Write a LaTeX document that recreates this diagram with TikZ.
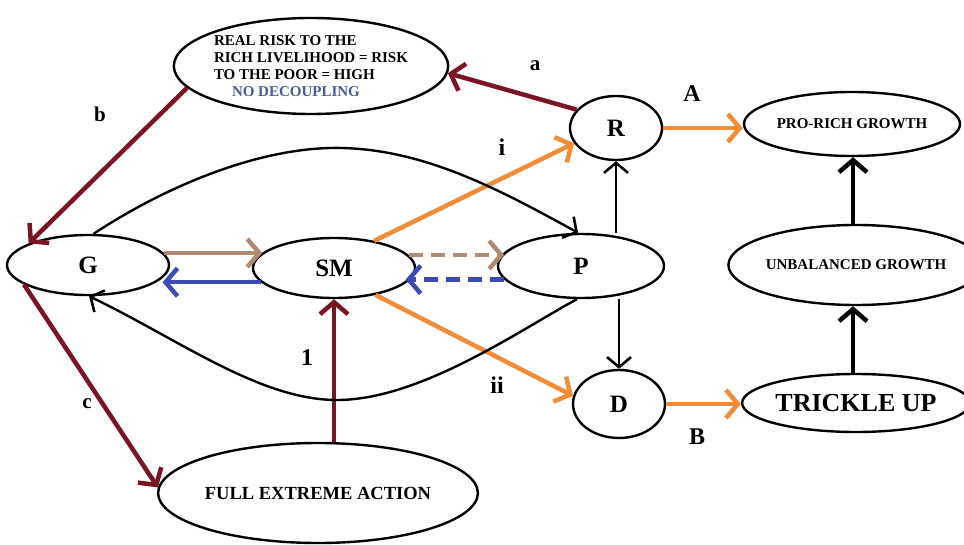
\documentclass[tikz,border=0pt]{standalone}
\usepackage{fontspec}
\setmainfont{Liberation Serif}
\usetikzlibrary{arrows.meta,shapes.geometric,calc}
\definecolor{dred}{HTML}{7A1324}
\definecolor{orng}{HTML}{F28C38}
\definecolor{tanc}{HTML}{B08B73}
\definecolor{bluec}{HTML}{3D4AB5}
\definecolor{navyt}{HTML}{4B5A95}
\tikzset{
  ell/.style={ellipse, draw=black, line width=2.4pt, inner sep=0pt, font=\bfseries},
  big/.style={font=\fontsize{25}{28}\selectfont\bfseries},
  thk/.style={line width=4.5pt, -{Straight Barb[length=12pt,width=28pt,line width=4.5pt]}},
  thn/.style={line width=2.4pt, -{Straight Barb[length=10pt,width=24pt,line width=2.6pt]}},
  lbl/.style={font=\fontsize{24}{26}\selectfont\bfseries},
  slbl/.style={font=\fontsize{21}{23}\selectfont\bfseries},
}
\begin{document}
\begin{tikzpicture}[x=1pt,y=-1pt]
\useasboundingbox (0,0) rectangle (964,545);
% nodes
\node[ell, minimum width=268pt, minimum height=96pt, align=left,
  font=\fontsize{15}{17}\selectfont\bfseries] (top) at (311,66)
  {REAL RISK TO THE\\RICH LIVELIHOOD = RISK\\TO THE POOR = HIGH\\\hspace*{18pt}\textcolor{navyt}{NO DECOUPLING}};
\node[ell, big, minimum width=162pt, minimum height=60pt] (G) at (88,265) {G};
\node[ell, big, minimum width=162pt, minimum height=60pt] (SM) at (334,268) {SM};
\node[ell, big, minimum width=166pt, minimum height=64pt] (P) at (581,266) {P};
\node[ell, big, minimum width=92pt, minimum height=64pt] (R) at (616,128) {R};
\node[ell, big, minimum width=92pt, minimum height=68pt] (D) at (619,404) {D};
\node[ell, minimum width=216pt, minimum height=64pt, font=\fontsize{15}{17}\selectfont\bfseries] (PRO) at (852,124) {PRO-RICH GROWTH};
\node[ell, minimum width=198pt, minimum height=80pt, font=\fontsize{15}{17}\selectfont\bfseries] (UNB) at (856,265) {UNBALANCED GROWTH};
\node[ell, minimum width=212pt, minimum height=58pt, font=\fontsize{26}{28}\selectfont\bfseries] (TU) at (856,403) {TRICKLE UP};
\node[ell, minimum width=270pt, minimum height=100pt, font=\fontsize{18.5}{20}\selectfont\bfseries] (FEA) at (318,493) {FULL EXTREME ACTION};
\coordinate (vx) at (853,0);
\coordinate (peak) at (330,148);
\coordinate (low) at (337,400);
% dark red arrows
\draw[thk, dred] (R.155) -- (top.-3);
\draw[thk, dred] (top.190) -- (G.160);
\draw[thk, dred] (G.197) -- (FEA.178);
\draw[thk, dred] (FEA.north -| SM.south) -- (SM.south);
% tan / blue
\draw[thk, tanc] (G.9) -- (G.9 -| SM.168);
\draw[thk, bluec] (SM.191) -- (SM.191 -| G.-10);
\draw[thk, tanc, dash pattern=on 14pt off 8pt] (SM.10) -- (SM.10 -| P.170);
\draw[thk, bluec, dash pattern=on 14pt off 8pt] (P.190) -- (P.190 -| SM.-12);
% orange
\draw[thk, orng] (SM.34) -- (R.200);
\draw[thk, orng] (SM.-33) -- (D.170);
\draw[thk, orng] (R.east) -- (R.east -| PRO.west);
\draw[thk, orng] (D.east) -- (D.east -| TU.west);
% black
\draw[thn] (R.south |- P.north) -- (R.south);
\draw[thn] (D.north |- P.south) -- (D.north);
\draw[thk, black] (vx |- UNB.north) -- (vx |- PRO.south);
\draw[thk, black] (vx |- TU.north) -- (vx |- UNB.south);
\draw[thn] (G.80) .. controls (160,190) and (250,150) .. (peak)
  .. controls (420,146) and (500,190) .. (P.95);
\draw[thn] (P.-97) .. controls (520,330) and (420,400) .. (low)
  .. controls (260,400) and (180,340) .. (G.-88);
% labels
\node[slbl] (la) at (535,66) {a};
\node[slbl] (lb) at (100,114) {b};
\node[slbl] (lc) at (87,404) {c};
\node[lbl] (l1) at (307,358) {1};
\node[lbl] (li) at (502,147) {i};
\node[lbl] (lii) at (497,385) {ii};
\node[lbl] (lA) at (692,94) {A};
\node[lbl] (lB) at (697,437) {B};
\end{tikzpicture}
\end{document}
